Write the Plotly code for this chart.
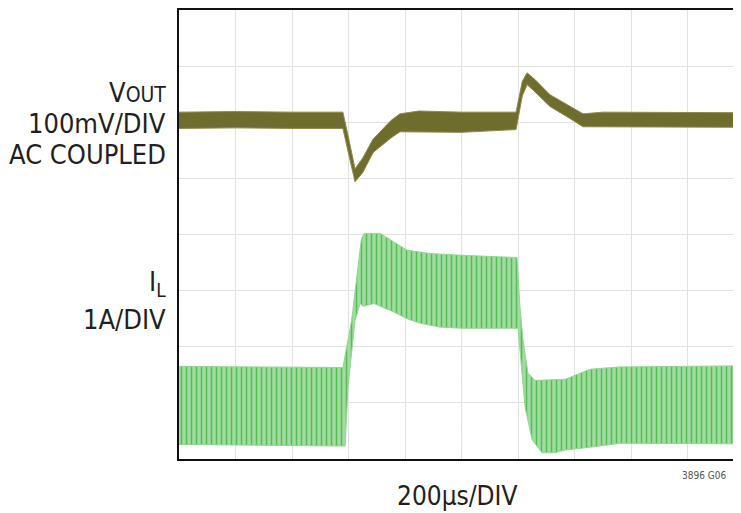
import plotly.graph_objects as go

# Time axis: 200 us per division, values in microseconds
# Vertical values in screen divisions (8 divisions tall)

# V_OUT trace envelope (100mV/DIV, AC coupled)
t_vout = [0, 200, 400, 580, 601, 623, 650, 687, 750, 782, 850, 1000, 1193, 1215, 1232, 1260, 1313, 1373, 1430, 1500, 1700, 1989]
vout_hi = [6.18, 6.19, 6.18, 6.18, 5.70, 5.17, 5.36, 5.70, 6.03, 6.15, 6.20, 6.18, 6.18, 6.73, 6.88, 6.76, 6.49, 6.31, 6.15, 6.18, 6.18, 6.17]
vout_lo = [5.89, 5.90, 5.89, 5.89, 5.42, 4.94, 5.10, 5.46, 5.72, 5.83, 5.82, 5.82, 5.87, 6.47, 6.67, 6.54, 6.28, 6.10, 5.92, 5.92, 5.92, 5.91]

# I_L trace envelope (1A/DIV)
t_il_hi = [0, 580, 611, 626, 645, 655, 712, 807, 889, 1000, 1196, 1207, 1218, 1235, 1260, 1367, 1455, 1561, 1989]
il_hi = [1.65, 1.63, 2.47, 3.07, 3.90, 4.02, 4.02, 3.72, 3.66, 3.63, 3.59, 2.69, 2.10, 1.53, 1.40, 1.42, 1.60, 1.64, 1.66]
t_il_lo = [0, 588, 598, 623, 641, 651, 690, 760, 807, 853, 924, 1000, 1200, 1214, 1225, 1250, 1285, 1330, 1367, 1455, 1561, 1989]
il_lo = [0.26, 0.23, 1.28, 2.47, 2.77, 2.72, 2.77, 2.62, 2.50, 2.42, 2.35, 2.33, 2.33, 1.53, 0.92, 0.34, 0.11, 0.11, 0.16, 0.21, 0.28, 0.27]

x_divs = 10
y_divs = 8
us_per_div = 200

FONT = "DejaVu Sans Condensed, Liberation Sans Narrow, Arial Narrow, sans-serif"
TXT = "#231f20"

# the page body adds an 8px offset; the figure is sized so that it fills the window
OFF = 8
W, H = 741 - OFF, 513 - OFF
LEFT, TOP, BOTTOM = 179 - OFF, 9.5 - OFF, 459 - OFF

fig = go.Figure()

fig.add_trace(go.Scatter(
    x=t_il_hi + t_il_lo[::-1],
    y=il_hi + il_lo[::-1],
    mode="lines",
    fill="toself",
    fillcolor="#a6dea6",
    fillpattern=dict(shape="|", fgcolor="#55bb55", bgcolor="#a0dca0", size=5, solidity=0.3, fillmode="replace"),
    line=dict(color="#94d694", width=1),
    hoverinfo="skip",
    showlegend=False,
))

fig.add_trace(go.Scatter(
    x=t_vout + t_vout[::-1],
    y=vout_hi + vout_lo[::-1],
    mode="lines",
    fill="toself",
    fillcolor="#6f6d2e",
    line=dict(color="#8c8a4a", width=1),
    hoverinfo="skip",
    showlegend=False,
))

# dotted centre graticule lines
fig.add_shape(type="line", xref="x", yref="paper", x0=x_divs * us_per_div / 2, x1=x_divs * us_per_div / 2, y0=0, y1=1,
              line=dict(color="#b0b0b0", width=1, dash="dot"), layer="below")
fig.add_shape(type="line", xref="paper", yref="y", x0=0, x1=1, y0=y_divs / 2, y1=y_divs / 2,
              line=dict(color="#b0b0b0", width=1, dash="dot"), layer="below")

fig.update_xaxes(range=[0, 1989], dtick=us_per_div, tick0=0, showticklabels=False, ticks="",
                 showgrid=True, gridcolor="#e2e2e2", gridwidth=1, zeroline=False,
                 showline=True, linecolor="#111111", linewidth=2, mirror=True, fixedrange=True)
fig.update_yaxes(range=[0, y_divs], dtick=1, tick0=0, showticklabels=False, ticks="",
                 showgrid=True, gridcolor="#e2e2e2", gridwidth=1, zeroline=False,
                 showline=True, linecolor="#111111", linewidth=2, mirror=False, fixedrange=True)

PW = W - LEFT
PH = BOTTOM - TOP


def px(xp):
    return (xp - OFF - LEFT) / PW


def py(yp):
    return (BOTTOM - (yp - OFF)) / PH


ann = dict(xref="paper", yref="paper", showarrow=False, font=dict(family=FONT, size=27, color=TXT))
fig.add_annotation(text="V<span style='font-size:21px'>OUT</span>", x=px(168), y=py(92), xanchor="right", yanchor="middle", **ann)
fig.add_annotation(text="100mV/DIV", x=px(168), y=py(123), xanchor="right", yanchor="middle", **ann)
fig.add_annotation(text="AC COUPLED", x=px(168), y=py(154), xanchor="right", yanchor="middle", **ann)
fig.add_annotation(text="I<sub>L</sub>", x=px(168), y=py(283), xanchor="right", yanchor="middle", **ann)
fig.add_annotation(text="1A/DIV", x=px(168), y=py(319), xanchor="right", yanchor="middle", **ann)
fig.add_annotation(text="200µs/DIV", x=px(457), y=py(496), xanchor="center", yanchor="middle",
                   xref="paper", yref="paper", showarrow=False,
                   font=dict(family=FONT, size=26, color=TXT))
fig.add_annotation(text="3896 G06", x=px(680), y=py(476), xanchor="left", yanchor="middle",
                   xref="paper", yref="paper", showarrow=False,
                   font=dict(family=FONT, size=10, color="#555555"))

fig.update_layout(
    width=W, height=H,
    margin=dict(l=LEFT, r=0, t=TOP, b=H - BOTTOM, autoexpand=False),
    paper_bgcolor="white", plot_bgcolor="white",
    showlegend=False,
)

fig.write_html("out.html")
